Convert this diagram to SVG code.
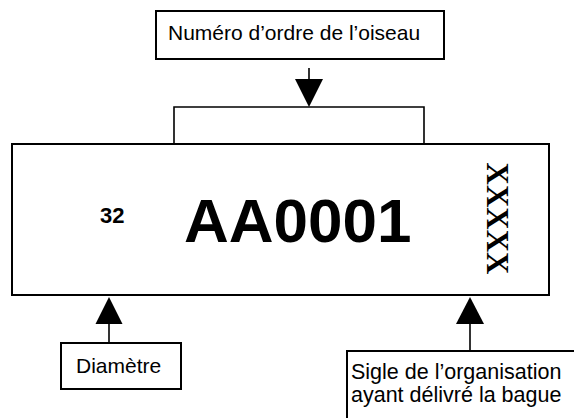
<svg xmlns="http://www.w3.org/2000/svg" width="574" height="418" viewBox="0 0 574 418">
<style>
.box{fill:#fff;stroke:#000;stroke-width:2}
.lbl{font-family:"Liberation Sans",Arial,sans-serif;font-size:21px;fill:#000}
.ln{fill:none;stroke:#000;stroke-width:1.6}
.head{fill:#000;stroke:none}
</style>
<rect width="574" height="418" fill="#fff"/>
<g id="ring">
<rect class="box" x="12" y="144" width="537" height="151"/>
<text x="100" y="223" font-family="Liberation Sans,Arial,sans-serif" font-weight="bold" font-size="22">32</text>
<text x="184" y="242" font-family="Liberation Sans,Arial,sans-serif" font-weight="bold" font-size="62">AA0001</text>
<text transform="translate(497.5,218.5) rotate(90)" x="0" y="10.5" text-anchor="middle" font-family="Liberation Serif,'Times New Roman',serif" font-weight="bold" font-size="31">XXXXX</text>
</g>
<g id="numero">
<rect class="box" x="156" y="11" width="288" height="48"/>
<text class="lbl" x="168" y="40">Numéro d’ordre de l’oiseau</text>
</g>
<g id="diametre">
<rect class="box" x="61" y="343" width="120" height="46"/>
<text class="lbl" x="76" y="373">Diamètre</text>
</g>
<g id="sigle">
<rect class="box" x="347" y="351" width="240" height="100"/>
<text class="lbl" x="351" y="379" style="font-size:21.5px">Sigle de l’organisation</text>
<text class="lbl" x="351" y="402" style="font-size:21.5px">ayant délivré la bague</text>
</g>
<g id="connectors">
<path class="ln" d="M174,144 V107 H424 V144"/>
<path class="ln" d="M309,68 V80"/>
<path class="head" d="M295,79 L323,79 L309,107 Z"/>
<path class="ln" d="M109,323 V343"/>
<path class="head" d="M95.5,324 L122.5,324 L109,297 Z"/>
<path class="ln" d="M470,323 V351"/>
<path class="head" d="M456,324 L484,324 L470,297 Z"/>
</g>
</svg>
